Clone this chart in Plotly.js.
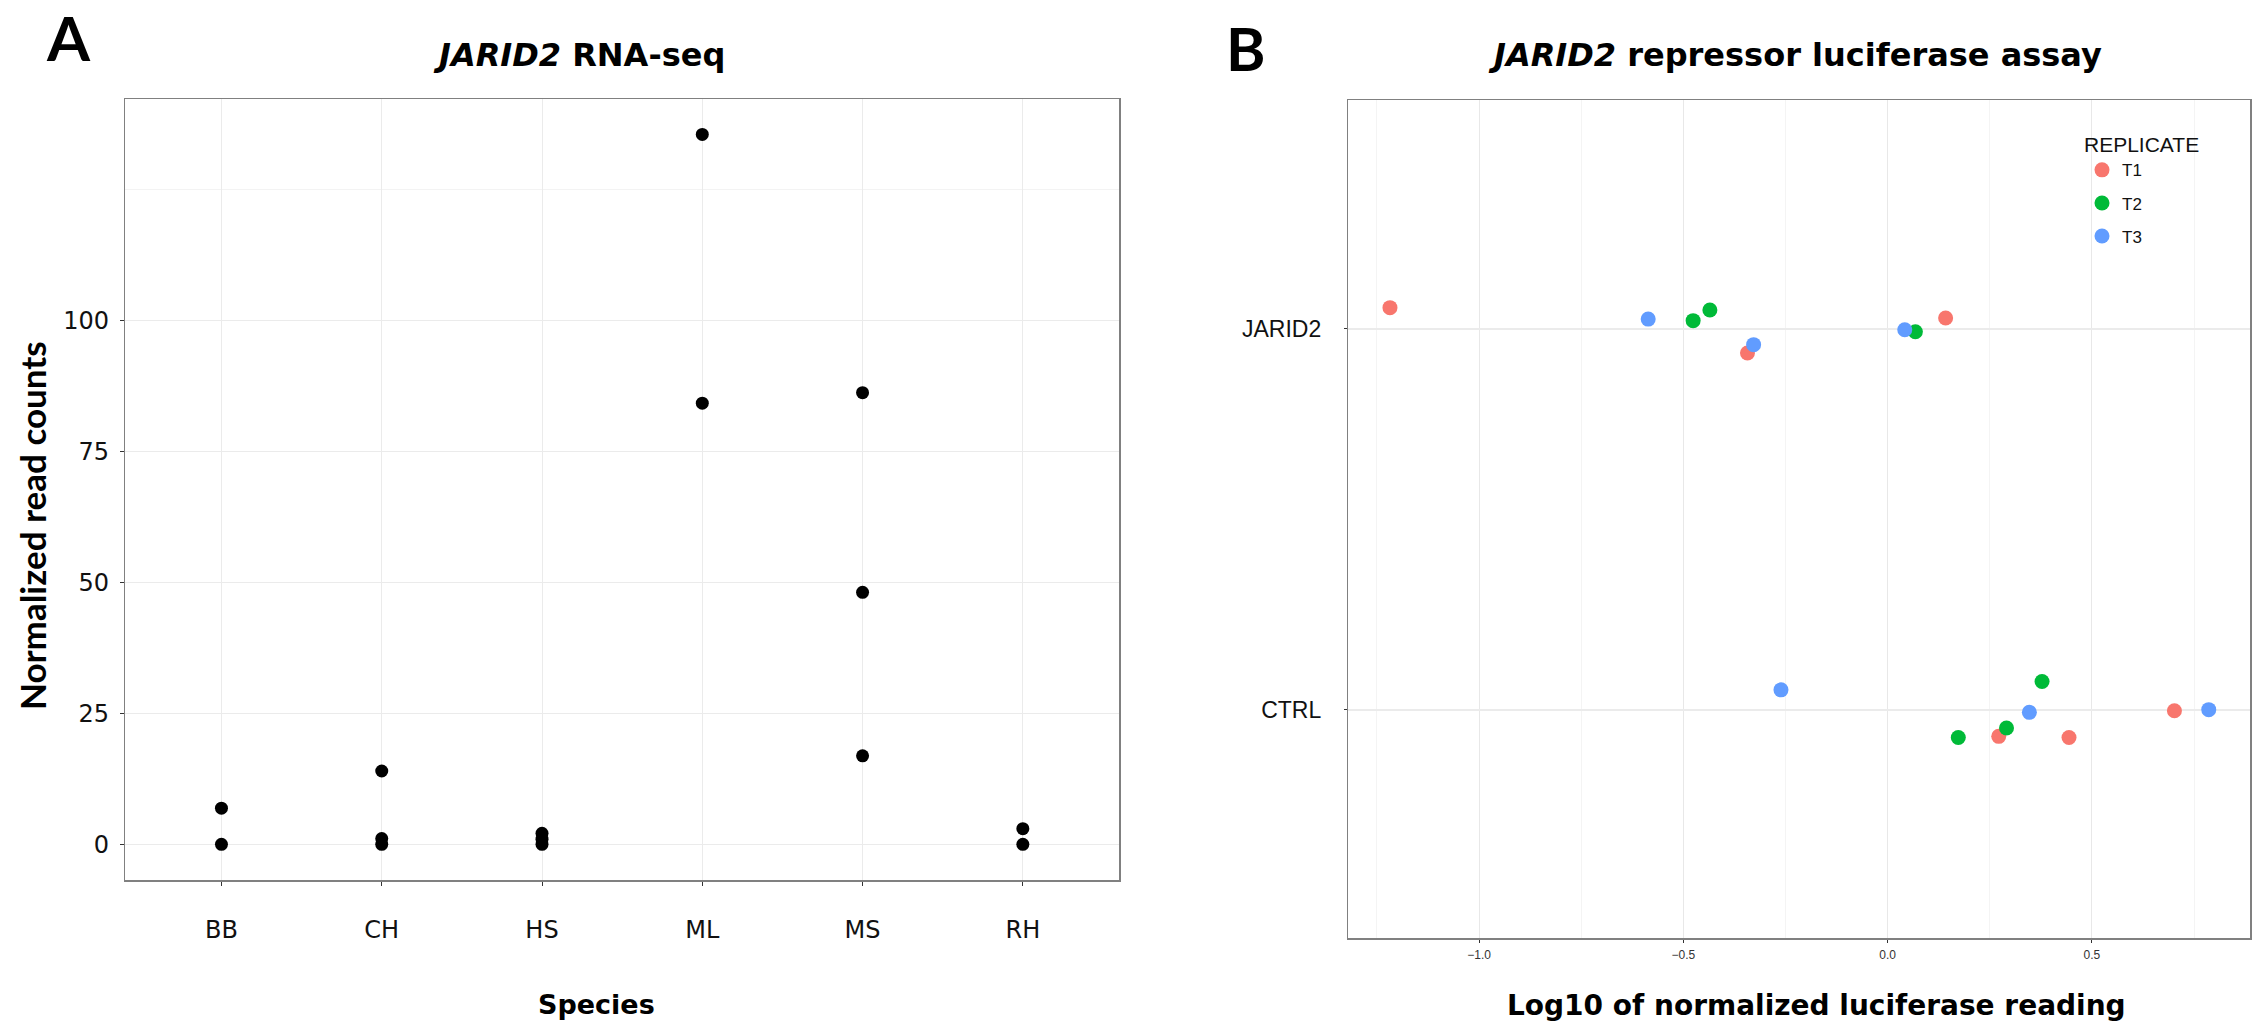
<!DOCTYPE html>
<html>
<head>
<meta charset="utf-8">
<script src="https://cdn.plot.ly/plotly-3.0.1.min.js"></script>
<style>html,body{margin:0;padding:0;background:#fff;}#chart{width:2253px;height:1028px;}</style>
</head>
<body>
<div id="chart"></div>
<script>
// ---- Panel A: JARID2 RNA-seq normalized read counts ----
const speciesOrder = ['BB', 'CH', 'HS', 'ML', 'MS', 'RH'];
const countSpecies = ['BB', 'BB', 'CH', 'CH', 'CH', 'HS', 'HS', 'HS', 'ML', 'ML', 'MS', 'MS', 'MS', 'RH', 'RH'];
const countValues  = [0, 6.9, 0, 1.1, 14.0, 0, 1.0, 2.1, 84.2, 135.5, 16.9, 48.1, 86.2, 0, 3.0];
const countTicks = [0, 25, 50, 75, 100];

// ---- Panel B: JARID2 repressor luciferase assay (log10 normalized reading) ----
const conditionLabels = ['CTRL', 'JARID2'];
const conditionLevels = [1, 2];
const replicates = ['T1', 'T2', 'T3'];
const replicateColors = ['#F8766D', '#00BA38', '#619CFF'];
// per replicate: condition of each point, x value, vertical jitter
const t1Condition = ['JARID2', 'JARID2', 'JARID2', 'CTRL', 'CTRL', 'CTRL'];
const t1Log10     = [-1.218, -0.343, 0.142, 0.272, 0.444, 0.702];
const t1Jitter    = [0.055, -0.064, 0.028, -0.070, -0.073, -0.003];
const t2Condition = ['JARID2', 'JARID2', 'JARID2', 'CTRL', 'CTRL', 'CTRL'];
const t2Log10     = [-0.476, -0.435, 0.068, 0.173, 0.291, 0.378];
const t2Jitter    = [0.021, 0.049, -0.008, -0.073, -0.048, 0.074];
const t3Condition = ['JARID2', 'JARID2', 'JARID2', 'CTRL', 'CTRL', 'CTRL'];
const t3Log10     = [-0.586, -0.328, 0.042, -0.261, 0.347, 0.786];
const t3Jitter    = [0.025, -0.042, -0.003, 0.052, -0.007, 0.000];
const lucTicks = [-1.0, -0.5, 0.0, 0.5];

const W = 2253, H = 1028;
const px = v => v / W;
const py = v => 1 - v / H;
const levelOf = c => conditionLevels[conditionLabels.indexOf(c)];

const traces = [];
traces.push({
  type: 'scatter', mode: 'markers',
  x: countSpecies, y: countValues,
  xaxis: 'x', yaxis: 'y',
  marker: {color: '#000000', size: 13},
  showlegend: false, hoverinfo: 'x+y'
});
const repData = [
  [t1Condition, t1Log10, t1Jitter],
  [t2Condition, t2Log10, t2Jitter],
  [t3Condition, t3Log10, t3Jitter]
];
repData.forEach((d, i) => {
  traces.push({
    type: 'scatter', mode: 'markers',
    name: replicates[i], legendgroup: replicates[i],
    x: d[1], y: d[0].map((c, k) => levelOf(c) + d[2][k]),
    xaxis: 'x2', yaxis: 'y2',
    marker: {color: replicateColors[i], size: 15}
  });
});

const boxLine = {showline: true, mirror: true, linecolor: '#808080', linewidth: 1.5, zeroline: false};

const layout = {
  width: W, height: H,
  margin: {l: 0, r: 0, t: 0, b: 0},
  paper_bgcolor: '#ffffff', plot_bgcolor: '#ffffff',
  showlegend: true,
  xaxis: Object.assign({
    domain: [px(125.3), px(1119)],
    type: 'category', categoryorder: 'array', categoryarray: speciesOrder,
    range: [-0.6, 5.6],
    showgrid: true, gridcolor: '#ebebeb', gridwidth: 1,
    ticks: 'outside', ticklen: 4, tickcolor: '#333333',
    tickfont: {family: 'DejaVu Sans, sans-serif', size: 24, color: '#111111'},
    ticklabelstandoff: 24
  }, boxLine),
  yaxis: Object.assign({
    domain: [py(880), py(99.3)],
    range: [-6.8, 142.2],
    tickmode: 'array', tickvals: countTicks, ticktext: countTicks.map(String),
    showgrid: true, gridcolor: '#ebebeb', gridwidth: 1,
    minor: {tickmode: 'array', tickvals: [125], showgrid: true, gridcolor: '#f3f3f3', ticks: ''},
    ticks: 'outside', ticklen: 4, tickcolor: '#333333',
    tickfont: {family: 'DejaVu Sans, sans-serif', size: 24, color: '#111111'},
    ticklabelstandoff: 6
  }, boxLine),
  xaxis2: Object.assign({
    domain: [px(1348.3), px(2250)],
    anchor: 'y2',
    range: [-1.32, 0.887],
    tickmode: 'array', tickvals: lucTicks, tickformat: '.1f',
    showgrid: true, gridcolor: '#e8e8e8', gridwidth: 1,
    minor: {dtick: 0.25, tick0: 0, showgrid: true, gridcolor: '#f4f4f4', ticks: ''},
    ticks: 'outside', ticklen: 3, tickcolor: '#333333',
    tickfont: {family: 'Liberation Sans, Arial, sans-serif', size: 12, color: '#333333'},
    ticklabelstandoff: 2
  }, boxLine),
  yaxis2: Object.assign({
    domain: [py(938.3), py(100)],
    anchor: 'x2',
    range: [0.4, 2.6],
    tickmode: 'array', tickvals: conditionLevels, ticktext: conditionLabels,
    showgrid: true, gridcolor: '#ebebeb', gridwidth: 2,
    ticks: 'outside', ticklen: 3, tickcolor: '#333333',
    tickfont: {family: 'Liberation Sans, Arial, sans-serif', size: 23, color: '#111111'},
    ticklabelstandoff: 18
  }, boxLine),
  legend: {
    x: px(2082), y: py(125), xanchor: 'left', yanchor: 'top',
    title: {text: 'REPLICATE', font: {family: 'Liberation Sans, Arial, sans-serif', size: 21, color: '#111111'}},
    font: {family: 'Liberation Sans, Arial, sans-serif', size: 17, color: '#111111'},
    bgcolor: 'rgba(0,0,0,0)', tracegroupgap: 8, itemsizing: 'trace'
  },
  annotations: [
    {text: '<b>A</b>', x: px(68), y: py(37), xref: 'paper', yref: 'paper', showarrow: false,
     font: {family: 'Lato, sans-serif', size: 62, color: '#000', weight: 'bold'}, xanchor: 'center', yanchor: 'middle'},
    {text: '<b>B</b>', x: px(1246), y: py(48), xref: 'paper', yref: 'paper', showarrow: false,
     font: {family: 'Lato, sans-serif', size: 60, color: '#000', weight: 'bold'}, xanchor: 'center', yanchor: 'middle'},
    {text: '<b><i>JARID2</i> RNA-seq</b>', x: px(579), y: py(55), xref: 'paper', yref: 'paper', showarrow: false,
     font: {family: 'DejaVu Sans, sans-serif', size: 32, color: '#000'}, xanchor: 'center', yanchor: 'middle'},
    {text: '<b><i>JARID2</i> repressor luciferase assay</b>', x: px(1795), y: py(55), xref: 'paper', yref: 'paper', showarrow: false,
     font: {family: 'DejaVu Sans, sans-serif', size: 32, color: '#000'}, xanchor: 'center', yanchor: 'middle'},
    {text: '<b>Normalized read counts</b>', x: px(32), y: py(526), xref: 'paper', yref: 'paper', showarrow: false,
     textangle: -90, font: {family: 'Lato, sans-serif', size: 35, color: '#000'}, xanchor: 'center', yanchor: 'middle'},
    {text: '<b>Species</b>', x: px(596), y: py(1004), xref: 'paper', yref: 'paper', showarrow: false,
     font: {family: 'DejaVu Sans, sans-serif', size: 27, color: '#000'}, xanchor: 'center', yanchor: 'middle'},
    {text: '<b>Log10 of normalized luciferase reading</b>', x: px(1816), y: py(1005), xref: 'paper', yref: 'paper', showarrow: false,
     font: {family: 'DejaVu Sans, sans-serif', size: 28, color: '#000'}, xanchor: 'center', yanchor: 'middle'}
  ]
};

Plotly.newPlot('chart', traces, layout, {displayModeBar: false, staticPlot: true});
</script>
</body>
</html>
